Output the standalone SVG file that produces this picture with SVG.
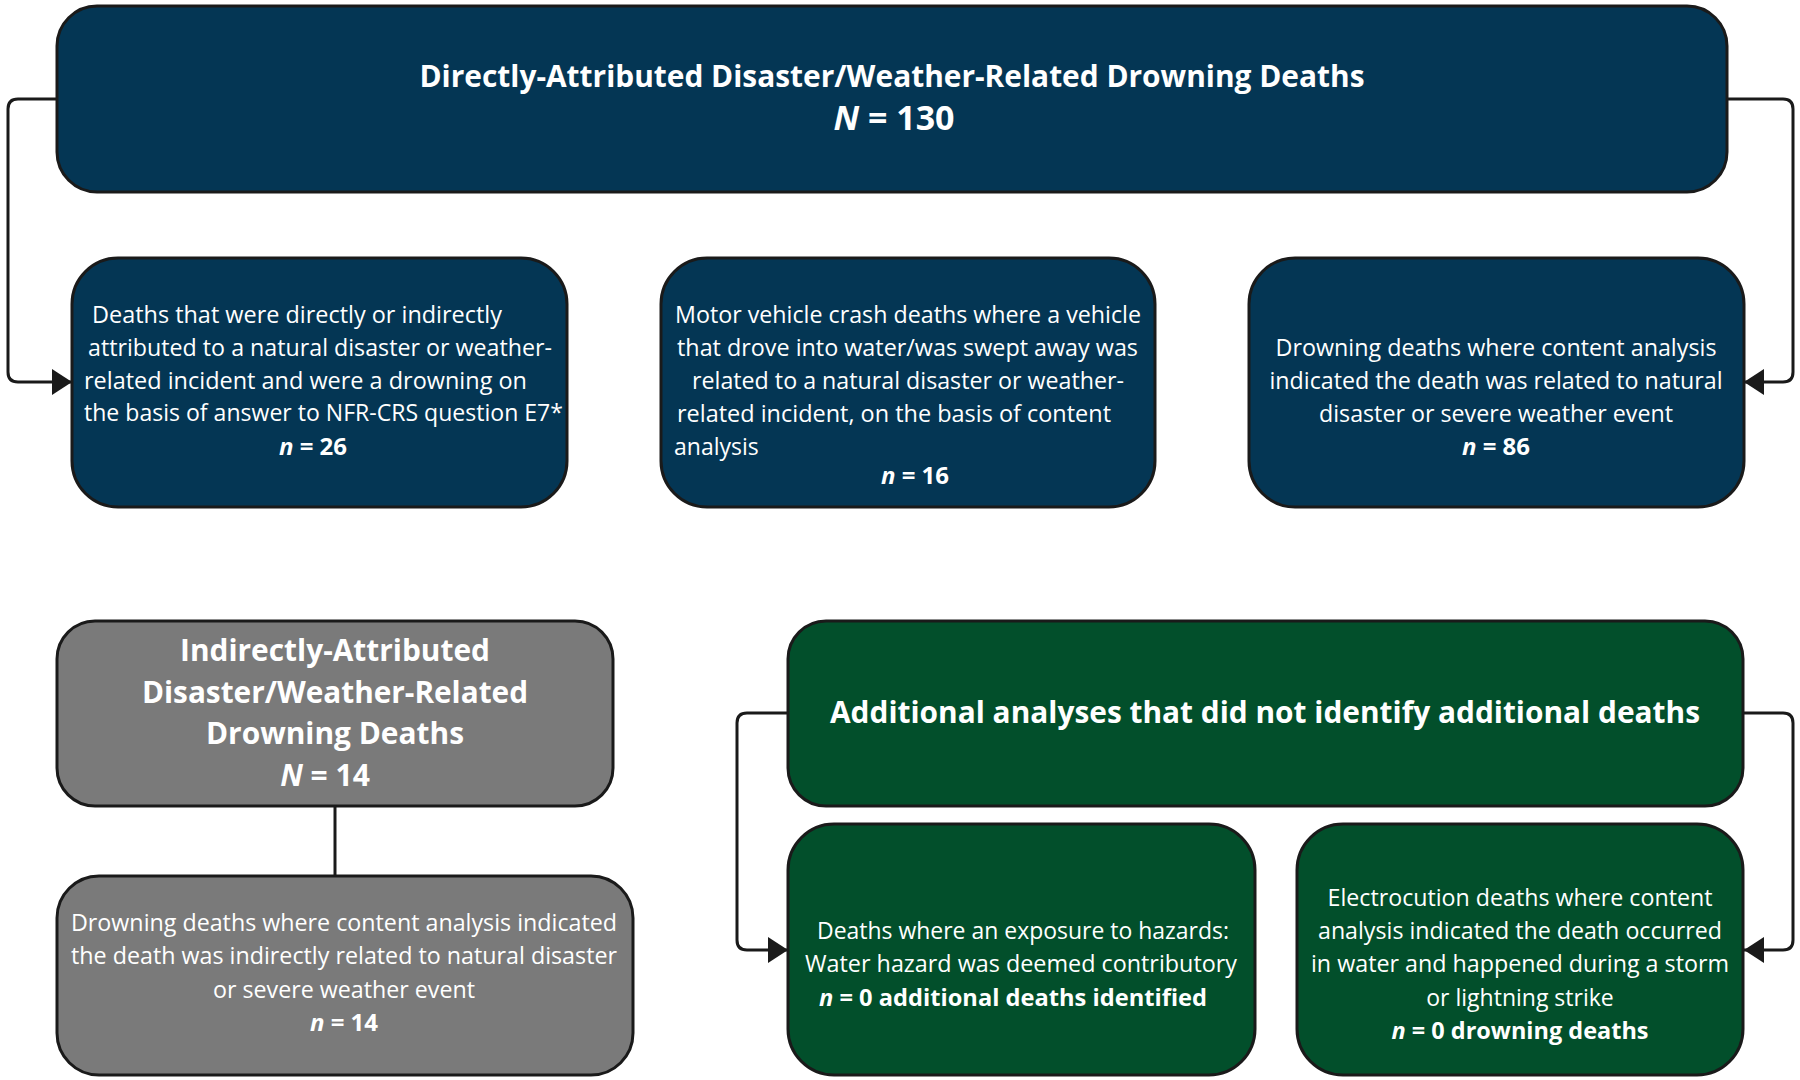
<svg xmlns="http://www.w3.org/2000/svg" width="1800" height="1080" viewBox="0 0 1800 1080">
<defs>
<marker id="arr" markerUnits="userSpaceOnUse" markerWidth="22" markerHeight="26" refX="20" refY="13" orient="auto">
<path d="M0,0 L20,13 L0,26 Z" fill="#1a1a1a"/>
</marker>
<style>
.box{stroke:#1a1a1a;stroke-width:3}
.navy{fill:#043654}
.green{fill:#024f2b}
.gray{fill:#7a7a7a}
.conn{fill:none;stroke:#1a1a1a;stroke-width:3}
text{font-family:"Open Sans","Liberation Sans",sans-serif;fill:#ffffff}
.t{font-size:23px}
.b{font-size:24px;font-weight:700}
.h{font-size:30px;font-weight:700}
.c{text-anchor:middle}
.i{font-style:italic}
</style>
</defs>
<rect width="1800" height="1080" fill="#ffffff"/>
<g id="connectors">
<path class="conn" d="M57,99 H18 Q8,99 8,109 V372 Q8,382 18,382 H72" marker-end="url(#arr)"/>
<path class="conn" d="M1727,99 H1783 Q1793,99 1793,109 V372 Q1793,382 1783,382 H1744" marker-end="url(#arr)"/>
<path class="conn" d="M788,713 H747 Q737,713 737,723 V940 Q737,950 747,950 H788" marker-end="url(#arr)"/>
<path class="conn" d="M1743,713 H1783 Q1793,713 1793,723 V940 Q1793,950 1783,950 H1744" marker-end="url(#arr)"/>
<path class="conn" d="M335,806 V876"/>
</g>
<g id="top">
<rect class="box navy" x="57" y="6" width="1670" height="186" rx="40"/>
<text class="h c" x="892" y="87" textLength="945" lengthAdjust="spacingAndGlyphs">Directly-Attributed Disaster/Weather-Related Drowning Deaths</text>
<text class="c" x="894" y="130" style="font-size:34px;font-weight:700"><tspan class="i">N</tspan> = 130</text>
</g>
<g id="boxA">
<rect class="box navy" x="72" y="258" width="495" height="249" rx="46"/>
<text class="t" x="92" y="323" textLength="410" lengthAdjust="spacingAndGlyphs">Deaths that were directly or indirectly</text>
<text class="t" x="88" y="356" textLength="464" lengthAdjust="spacingAndGlyphs">attributed to a natural disaster or weather-</text>
<text class="t" x="84" y="389" textLength="443" lengthAdjust="spacingAndGlyphs">related incident and were a drowning on</text>
<text class="t" x="84" y="421" textLength="479" lengthAdjust="spacingAndGlyphs">the basis of answer to NFR-CRS question E7*</text>
<text class="b c" x="313" y="455"><tspan class="i">n</tspan> = 26</text>
</g>
<g id="boxB">
<rect class="box navy" x="661" y="258" width="494" height="249" rx="46"/>
<text class="t" x="675" y="323" textLength="466" lengthAdjust="spacingAndGlyphs">Motor vehicle crash deaths where a vehicle</text>
<text class="t" x="677" y="356" textLength="461" lengthAdjust="spacingAndGlyphs">that drove into water/was swept away was</text>
<text class="t" x="692" y="389" textLength="432" lengthAdjust="spacingAndGlyphs">related to a natural disaster or weather-</text>
<text class="t" x="677" y="422" textLength="434" lengthAdjust="spacingAndGlyphs">related incident, on the basis of content</text>
<text class="t" x="674" y="455">analysis</text>
<text class="b c" x="915" y="484"><tspan class="i">n</tspan> = 16</text>
</g>
<g id="boxC">
<rect class="box navy" x="1249" y="258" width="495" height="249" rx="46"/>
<text class="t c" x="1496" y="356" textLength="441" lengthAdjust="spacingAndGlyphs">Drowning deaths where content analysis</text>
<text class="t c" x="1496" y="389" textLength="453" lengthAdjust="spacingAndGlyphs">indicated the death was related to natural</text>
<text class="t c" x="1496" y="422" textLength="354" lengthAdjust="spacingAndGlyphs">disaster or severe weather event</text>
<text class="b c" x="1496" y="455"><tspan class="i">n</tspan> = 86</text>
</g>
<g id="indirect">
<rect class="box gray" x="57" y="621" width="556" height="185" rx="38"/>
<text class="h c" x="335" y="661" textLength="310" lengthAdjust="spacingAndGlyphs">Indirectly-Attributed</text>
<text class="h c" x="335" y="703" textLength="386" lengthAdjust="spacingAndGlyphs">Disaster/Weather-Related</text>
<text class="h c" x="335" y="744" textLength="258" lengthAdjust="spacingAndGlyphs">Drowning Deaths</text>
<text class="h c" x="325" y="786"><tspan class="i">N</tspan> = 14</text>
</g>
<g id="indirectDetail">
<rect class="box gray" x="57" y="876" width="576" height="199" rx="42"/>
<text class="t c" x="344" y="931" textLength="546" lengthAdjust="spacingAndGlyphs">Drowning deaths where content analysis indicated</text>
<text class="t c" x="344" y="964" textLength="546" lengthAdjust="spacingAndGlyphs">the death was indirectly related to natural disaster</text>
<text class="t c" x="344" y="998" textLength="262" lengthAdjust="spacingAndGlyphs">or severe weather event</text>
<text class="b c" x="344" y="1031"><tspan class="i">n</tspan> = 14</text>
</g>
<g id="additional">
<rect class="box green" x="788" y="621" width="955" height="185" rx="38"/>
<text class="h c" x="1265" y="723" textLength="870" lengthAdjust="spacingAndGlyphs">Additional analyses that did not identify additional deaths</text>
</g>
<g id="boxD">
<rect class="box green" x="788" y="824" width="467" height="251" rx="46"/>
<text class="t c" x="1023" y="939" textLength="412" lengthAdjust="spacingAndGlyphs">Deaths where an exposure to hazards:</text>
<text class="t c" x="1021" y="972" textLength="432" lengthAdjust="spacingAndGlyphs">Water hazard was deemed contributory</text>
<text class="b c" x="1013" y="1006" textLength="388" lengthAdjust="spacingAndGlyphs"><tspan class="i">n</tspan> = 0  additional deaths identified</text>
</g>
<g id="boxE">
<rect class="box green" x="1297" y="824" width="446" height="251" rx="46"/>
<text class="t c" x="1520" y="906" textLength="385" lengthAdjust="spacingAndGlyphs">Electrocution deaths where content</text>
<text class="t c" x="1520" y="939" textLength="404" lengthAdjust="spacingAndGlyphs">analysis indicated the death occurred</text>
<text class="t c" x="1520" y="972" textLength="418" lengthAdjust="spacingAndGlyphs">in water and happened during a storm</text>
<text class="t c" x="1520" y="1006">or lightning strike</text>
<text class="b c" x="1520" y="1039" textLength="257" lengthAdjust="spacingAndGlyphs"><tspan class="i">n</tspan> = 0 drowning deaths</text>
</g>
</svg>
